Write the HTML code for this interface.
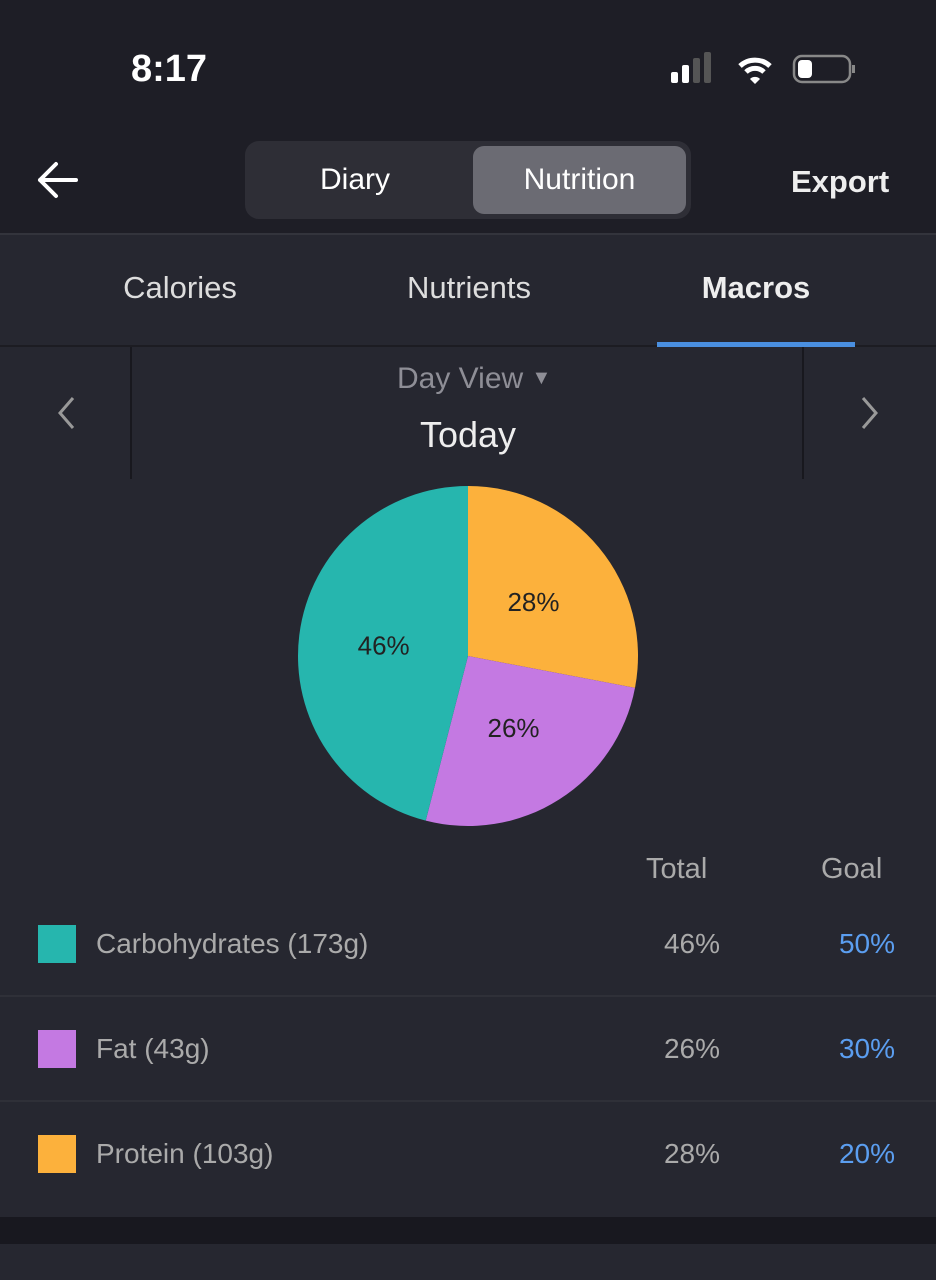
<!DOCTYPE html>
<html><head><meta charset="utf-8"><style>
*{margin:0;padding:0;box-sizing:border-box}
body{width:936px;height:1280px;background:#262730;font-family:"Liberation Sans",sans-serif;position:relative;overflow:hidden;color:#fff}
.abs{position:absolute}
</style></head><body>
<div class="abs" style="left:0;top:0;width:936px;height:233px;background:#1e1e26"></div>
<div class="abs" style="left:131px;top:48px;font-size:38px;font-weight:bold;color:#fff">8:17</div>
<svg class="abs" style="left:660px;top:48px" width="200" height="44">
<rect x="11" y="24" width="7" height="11" rx="2" fill="#fff"/><rect x="22" y="17" width="7" height="18" rx="2" fill="#fff"/><rect x="33" y="10" width="7" height="25" rx="2" fill="#555"/><rect x="44" y="4" width="7" height="31" rx="2" fill="#555"/>
<path d="M80 18 a22 22 0 0 1 30 0" stroke="#fff" stroke-width="5" fill="none"/><path d="M86 24 a13 13 0 0 1 18 0" stroke="#fff" stroke-width="5" fill="none"/><path d="M90 31 l5 5 l5 -5 a7 7 0 0 0 -10 0z" fill="#fff"/>
<rect x="134" y="8" width="56" height="26" rx="8" fill="none" stroke="#888" stroke-width="2.5"/><rect x="138" y="12" width="14" height="18" rx="4" fill="#fff"/><rect x="192" y="17" width="3" height="8" fill="#888"/>
</svg>
<svg class="abs" style="left:36px;top:160px" width="44" height="40"><path d="M40 20 H4 M20 4 L4 20 L20 36" stroke="#fff" stroke-width="4" fill="none" stroke-linecap="round" stroke-linejoin="round"/></svg>
<div class="abs" style="left:245px;top:141px;width:446px;height:78px;background:#2e2e36;border-radius:14px"></div>
<div class="abs" style="left:250px;top:146px;width:210px;height:68px;line-height:68px;text-align:center;font-size:30px;color:#fff">Diary</div>
<div class="abs" style="left:473px;top:146px;width:213px;height:68px;line-height:68px;text-align:center;font-size:30px;color:#fff;background:#6b6b73;border-radius:11px">Nutrition</div>
<div class="abs" style="left:791px;top:164px;font-size:31px;font-weight:bold;color:#eee">Export</div>
<div class="abs" style="left:0;top:233px;width:936px;height:2px;background:#33343c"></div>
<div class="abs" style="left:80px;top:270px;width:200px;text-align:center;font-size:31px;color:#ddd">Calories</div>
<div class="abs" style="left:369px;top:270px;width:200px;text-align:center;font-size:31px;color:#ddd">Nutrients</div>
<div class="abs" style="left:656px;top:270px;width:200px;text-align:center;font-size:31px;font-weight:bold;color:#eee">Macros</div>
<div class="abs" style="left:0;top:345px;width:936px;height:2px;background:#1c1c22"></div>
<div class="abs" style="left:657px;top:342px;width:198px;height:5px;background:#4a8fe0"></div>
<div class="abs" style="left:130px;top:347px;width:2px;height:132px;background:#18181e"></div>
<div class="abs" style="left:802px;top:347px;width:2px;height:132px;background:#18181e"></div>
<svg class="abs" style="left:55px;top:395px" width="24" height="36"><path d="M18 3 L5 18 L18 33" stroke="#999" stroke-width="3" fill="none"/></svg>
<svg class="abs" style="left:857px;top:395px" width="24" height="36"><path d="M6 3 L19 18 L6 33" stroke="#999" stroke-width="3" fill="none"/></svg>
<div class="abs" style="left:397px;top:362px;font-size:30px;color:#8e8e96">Day View <span style="font-size:20px;position:relative;top:-4px">▼</span></div>
<div class="abs" style="left:368px;top:414px;width:200px;text-align:center;font-size:36px;color:#eee">Today</div>
<svg id="pie" class="abs" style="left:0;top:470px" width="936" height="370"></svg>
<div class="abs" style="left:646px;top:853px;font-size:29px;color:#aaa">Total</div>
<div class="abs" style="left:821px;top:853px;font-size:29px;color:#aaa">Goal</div>
<div id="rows"></div>
<div class="abs" style="left:0;top:1217px;width:936px;height:27px;background:#18181f"></div>
<script>
const categories=["Protein","Fat","Carbohydrates"];
const values=[28,26,46];
const colors=["#fcb13c","#c479e2","#26b6ae"];
const rowNames=["Carbohydrates (173g)","Fat (43g)","Protein (103g)"];
const rowTotals=["46%","26%","28%"];
const rowGoals=["50%","30%","20%"];
const rowColors=["#26b6ae","#c479e2","#fcb13c"];
const NS="http://www.w3.org/2000/svg";
const svg=document.getElementById('pie');
const cx=468,cy=186,r=170;
const sum=values.reduce((a,b)=>a+b,0);
let a0=0;
values.forEach((v,i)=>{
  const a1=a0+v/sum*2*Math.PI;
  const p=a=>[cx+r*Math.sin(a),cy-r*Math.cos(a)];
  const [x0,y0]=p(a0),[x1,y1]=p(a1);
  const path=document.createElementNS(NS,'path');
  path.setAttribute('d',`M${cx} ${cy} L${x0} ${y0} A${r} ${r} 0 ${a1-a0>Math.PI?1:0} 1 ${x1} ${y1} Z`);
  path.setAttribute('fill',colors[i]);
  
  
  svg.appendChild(path);
  const am=(a0+a1)/2;
  const t=document.createElementNS(NS,'text');
  t.setAttribute('x',cx+r*0.5*Math.sin(am));
  t.setAttribute('y',cy-r*0.5*Math.cos(am)+9);
  t.setAttribute('text-anchor','middle');
  t.setAttribute('font-size','26');
  t.setAttribute('fill','#222');
  t.setAttribute('font-family','Liberation Sans, sans-serif');
  t.textContent=v+'%';
  
  
  svg.appendChild(t);
  a0=a1;
});
const rows=document.getElementById('rows');
rowNames.forEach((n,i)=>{
  const y=890+i*105;
  let h='';
  if(i>0)h+=`<div class="abs" style="left:0;top:${y}px;width:936px;height:2px;background:#2f3038"></div>`;
  h+=`<div class="abs" style="left:38px;top:${y+35}px;width:38px;height:38px;background:${rowColors[i]}"></div>`;
  h+=`<div class="abs" style="left:96px;top:${y+38}px;font-size:28px;color:#aaa">${n}</div>`;
  h+=`<div class="abs" style="left:620px;width:100px;text-align:right;top:${y+38}px;font-size:28px;color:#aaa">${rowTotals[i]}</div>`;
  h+=`<div class="abs" style="left:795px;width:100px;text-align:right;top:${y+38}px;font-size:28px;color:#5b9ef0">${rowGoals[i]}</div>`;
  rows.insertAdjacentHTML('beforeend',h);
});
</script>
</body></html>
